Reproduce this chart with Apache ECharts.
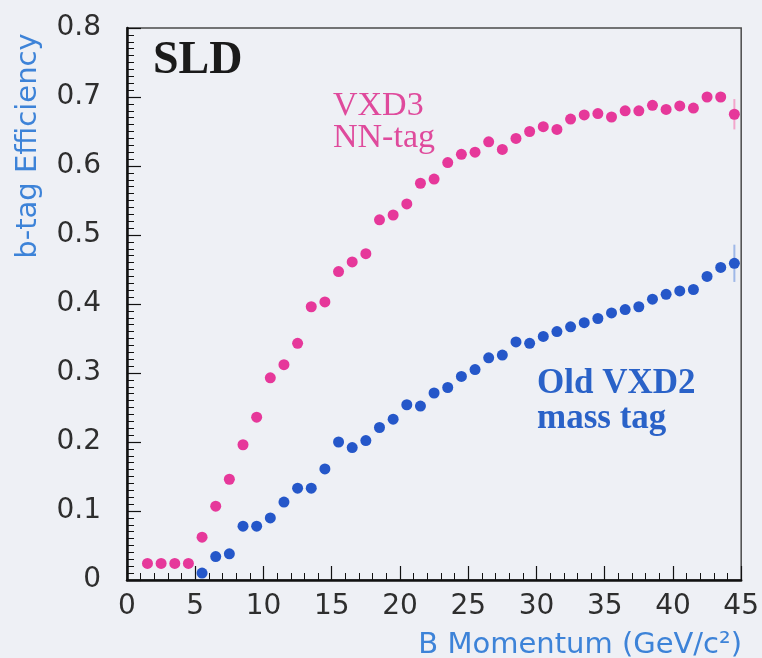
<!DOCTYPE html>
<html>
<head>
<meta charset="utf-8">
<script src="https://cdn.jsdelivr.net/npm/echarts@6/dist/echarts.min.js"></script>
<style>
  html, body { margin: 0; padding: 0; background: #eef0f5; }
  #chart { width: 762px; height: 658px; }
</style>
</head>
<body>
<div id="chart"></div>
<script>
// B momentum bin centres (GeV/c^2)
var momentum = [1.5, 2.5, 3.5, 4.5, 5.5, 6.5, 7.5, 8.5, 9.5, 10.5, 11.5, 12.5, 13.5, 14.5,
  15.5, 16.5, 17.5, 18.5, 19.5, 20.5, 21.5, 22.5, 23.5, 24.5, 25.5, 26.5, 27.5, 28.5,
  29.5, 30.5, 31.5, 32.5, 33.5, 34.5, 35.5, 36.5, 37.5, 38.5, 39.5, 40.5, 41.5, 42.5, 43.5, 44.5]

// VXD3 NN-tag efficiency
var vxd3Eff = [0.024, 0.024, 0.024, 0.024, 0.062, 0.107, 0.146, 0.196, 0.236, 0.293, 0.312, 0.343,
  0.396, 0.403, 0.447, 0.461, 0.473, 0.522, 0.529, 0.545, 0.575, 0.581, 0.605, 0.617, 0.620,
  0.635, 0.624, 0.640, 0.650, 0.657, 0.653, 0.668, 0.674, 0.676, 0.671, 0.680, 0.680, 0.688,
  0.682, 0.687, 0.684, 0.700, 0.700, 0.675]

// Old VXD2 mass tag efficiency (no points below 5 GeV)
var vxd2Eff = [null, null, null, null, 0.010, 0.034, 0.038, 0.078, 0.078, 0.090, 0.113, 0.133,
  0.133, 0.161, 0.200, 0.192, 0.202, 0.221, 0.233, 0.254, 0.252, 0.271, 0.279, 0.295, 0.305,
  0.322, 0.326, 0.345, 0.343, 0.353, 0.360, 0.367, 0.373, 0.379, 0.387, 0.392, 0.396, 0.407,
  0.414, 0.419, 0.421, 0.440, 0.453, 0.459]

// error bars only visible on the last bin
var errX = [44.5, 44.5]
var errVal = [0.675, 0.459]
var errSize = [0.022, 0.027]
var errColor = ['#f2a6cc', '#9fb8e8']

var pink = '#e6389a'
var blue = '#2557c9'

function pts(ys) {
  var out = []
  for (var i = 0; i < momentum.length; i++) {
    if (ys[i] !== null) out.push([momentum[i], ys[i]])
  }
  return out
}

var errData = []
for (var k = 0; k < errX.length; k++) {
  errData.push([errX[k], errVal[k] - errSize[k], errVal[k] + errSize[k], k])
}

var myChart = echarts.init(document.getElementById('chart'))
var option = {
  backgroundColor: '#eef0f5',
  animation: false,
  grid: {
    left: 127, right: 19, top: 28, bottom: 78,
    show: true,
    borderColor: '#4a4a4a',
    borderWidth: 1.5,
    backgroundColor: 'transparent'
  },
  xAxis: {
    type: 'value',
    min: 0, max: 45, interval: 5,
    axisLine: { lineStyle: { color: '#111', width: 2.5 } },
    axisTick: { inside: true, length: 14, lineStyle: { color: '#111', width: 1.2 } },
    minorTick: { show: true, splitNumber: 5, length: 7, lineStyle: { color: '#111', width: 1 } },
    splitLine: { show: false },
    axisLabel: { color: '#2e2e2e', fontSize: 28, fontFamily: 'DejaVu Sans', margin: 13 }
  },
  yAxis: {
    type: 'value',
    min: 0, max: 0.8, interval: 0.1,
    axisLine: { show: true, lineStyle: { color: '#111', width: 2.5 } },
    axisTick: { show: true, inside: true, length: 14, lineStyle: { color: '#111', width: 1.2 } },
    minorTick: { show: true, splitNumber: 10, length: 7, lineStyle: { color: '#111', width: 1 } },
    splitLine: { show: false },
    axisLabel: { color: '#2e2e2e', fontSize: 28, fontFamily: 'DejaVu Sans', margin: 26 }
  },
  graphic: [
    {
      type: 'text', left: 153, top: 38,
      style: { text: 'SLD', fill: '#1a1a1a', font: 'bold 46px "Liberation Serif"' }
    },
    {
      type: 'text', left: 333, top: 89,
      style: { text: 'VXD3\nNN-tag', fill: '#df4a9c', font: '34px "Liberation Serif"', lineHeight: 32 }
    },
    {
      type: 'text', left: 537, top: 366,
      style: { text: 'Old VXD2\nmass tag', fill: '#2a62c8', font: 'bold 35px "Liberation Serif"', lineHeight: 35 }
    },
    {
      type: 'text', x: 28, y: 146, rotation: Math.PI / 2,
      style: { text: 'b-tag Efficiency', fill: '#3d83d8', font: '29px "DejaVu Sans"', align: 'center', verticalAlign: 'middle' }
    },
    {
      type: 'text', x: 742, y: 645,
      style: { text: 'B Momentum (GeV/c²)', fill: '#3d83d8', font: '29px "DejaVu Sans"', align: 'right', verticalAlign: 'middle' }
    }
  ],
  series: [
    {
      name: 'err',
      type: 'custom',
      z: 1,
      data: errData,
      renderItem: function(params, api) {
        var lo = api.coord([api.value(0), api.value(1)])
        var hi = api.coord([api.value(0), api.value(2)])
        return {
          type: 'line',
          shape: { x1: lo[0], y1: lo[1], x2: hi[0], y2: hi[1] },
          style: { stroke: errColor[api.value(3)], lineWidth: 2 }
        }
      }
    },
    {
      name: 'VXD3 NN-tag',
      type: 'scatter',
      z: 3,
      symbolSize: 11,
      itemStyle: { color: pink, opacity: 1 },
      data: pts(vxd3Eff)
    },
    {
      name: 'Old VXD2 mass tag',
      type: 'scatter',
      z: 3,
      symbolSize: 11,
      itemStyle: { color: blue, opacity: 1 },
      data: pts(vxd2Eff)
    }
  ]
}
myChart.setOption(option)
</script>
</body>
</html>
